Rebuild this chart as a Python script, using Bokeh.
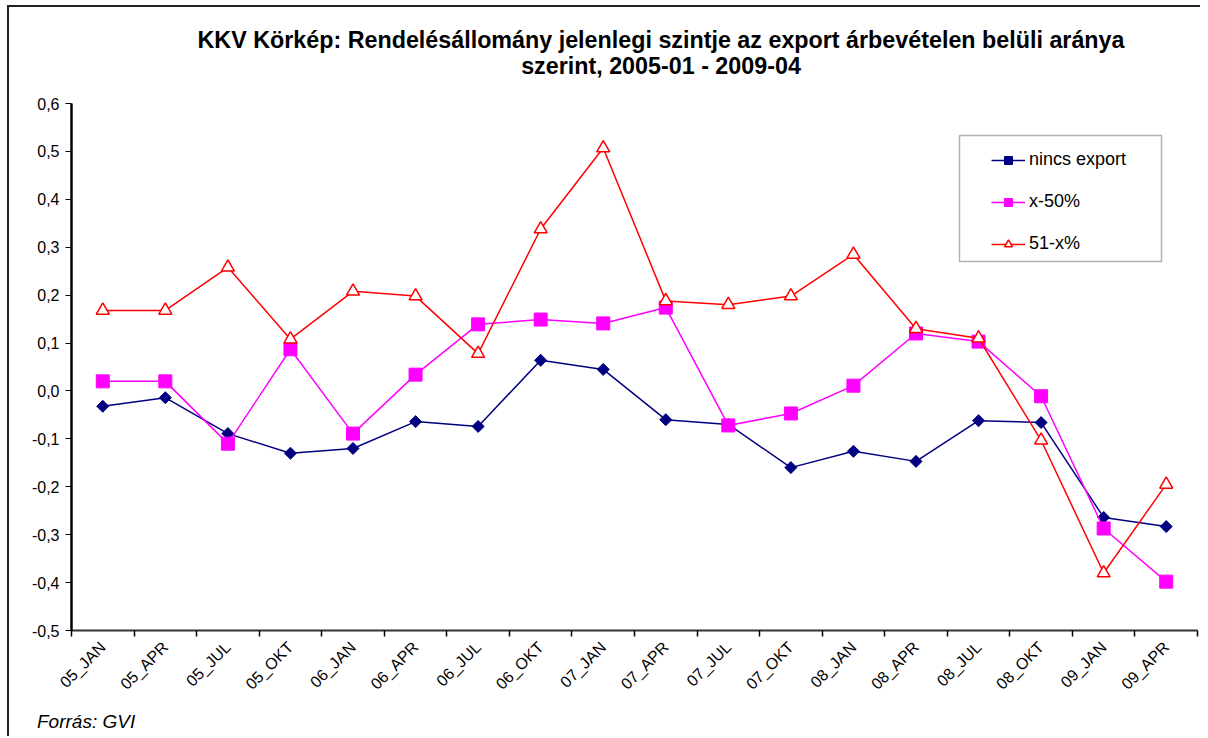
from bokeh.plotting import figure
from bokeh.models import (FixedTicker, Legend, LegendItem, Div, ColumnDataSource,
                          Range1d, BoxAnnotation)
from bokeh.layouts import column
from bokeh.embed import file_html
from bokeh.resources import INLINE
import math

categories = ["05_JAN", "05_APR", "05_JUL", "05_OKT", "06_JAN", "06_APR", "06_JUL", "06_OKT",
              "07_JAN", "07_APR", "07_JUL", "07_OKT", "08_JAN", "08_APR", "08_JUL", "08_OKT",
              "09_JAN", "09_APR"]
nincs_export = [-0.032, -0.014, -0.089, -0.130, -0.120, -0.064, -0.074, 0.064,
                0.045, -0.060, -0.070, -0.160, -0.126, -0.147, -0.062, -0.066,
                -0.264, -0.283]
x_50 = [0.020, 0.020, -0.110, 0.087, -0.089, 0.034, 0.139, 0.149,
        0.141, 0.174, -0.072, -0.047, 0.011, 0.120, 0.103, -0.011,
        -0.287, -0.398]
x_51 = [0.168, 0.168, 0.258, 0.108, 0.208, 0.198, 0.078, 0.338,
        0.507, 0.188, 0.180, 0.198, 0.285, 0.130, 0.110, -0.103,
        -0.380, -0.195]
y_ticks = [-0.5, -0.4, -0.3, -0.2, -0.1, 0.0, 0.1, 0.2, 0.3, 0.4, 0.5, 0.6]
y_labels = ["-0,5", "-0,4", "-0,3", "-0,2", "-0,1", "0,0", "0,1", "0,2", "0,3", "0,4", "0,5", "0,6"]
title_lines = ["KKV Körkép: Rendelésállomány jelenlegi szintje az export árbevételen belüli aránya",
               "szerint, 2005-01 - 2009-04"]
source_note = "Forrás: GVI"

FONT = "Liberation Sans"
n = len(categories)
xs = [i + 0.5 for i in range(n)]
src = ColumnDataSource(dict(x=xs, a=nincs_export, b=x_50, c=x_51))

W = 1191
title_div = Div(
    text=('<div style="width:1078px;margin-left:113px;padding-top:20px;text-align:center;'
          'font-weight:bold;font-size:23.3px;font-family:\'Liberation Sans\';line-height:26px;'
          'color:black;white-space:nowrap">' + title_lines[0] + '<br>' + title_lines[1] +
          '</div>'),
    width=W, height=80, margin=0, styles={"overflow": "hidden", "background": "white"})

p = figure(width=W, height=621, output_backend="svg", toolbar_location=None,
           x_range=Range1d(0, n), y_range=Range1d(-0.5, 0.6),
           min_border_left=62, min_border_right=3, min_border_top=16, min_border_bottom=78,
           title=None)
p.outline_line_color = None
p.xgrid.visible = False
p.ygrid.visible = False
p.background_fill_color = "white"
p.border_fill_color = "white"

src_div = Div(
    text=('<div style="margin-left:28px;padding-top:4px;font-style:italic;font-size:19px;'
          'font-family:\'Liberation Sans\';line-height:20px;color:black;white-space:nowrap">'
          + source_note + '</div>'),
    width=W, height=28, margin=0, styles={"overflow": "hidden", "background": "white"})

# y axis
p.yaxis.ticker = FixedTicker(ticks=y_ticks)
p.yaxis.major_label_overrides = {t: l for t, l in zip(y_ticks, y_labels)}
p.yaxis.axis_line_width = 2.5
p.yaxis.axis_line_color = "black"
p.yaxis.major_tick_in = 0
p.yaxis.major_tick_out = 6
p.yaxis.major_tick_line_width = 1
p.yaxis.minor_tick_line_color = None
p.yaxis.major_label_text_font = FONT
p.yaxis.major_label_text_font_size = "16px"
p.yaxis.major_label_text_color = "black"
p.yaxis.major_label_standoff = 6

# x axis
p.xaxis.ticker = FixedTicker(ticks=xs, minor_ticks=list(range(n + 1)))
p.xaxis.major_label_overrides = {x: c for x, c in zip(xs, categories)}
p.xaxis.major_tick_line_color = None
p.xaxis.minor_tick_in = 0
p.xaxis.minor_tick_out = 6
p.xaxis.minor_tick_line_color = "black"
p.xaxis.minor_tick_line_width = 1.5
p.xaxis.axis_line_width = 2
p.xaxis.axis_line_color = "#333"
p.xaxis.major_label_orientation = math.pi / 4
p.xaxis.major_label_text_font = FONT
p.xaxis.major_label_text_font_size = "16px"
p.xaxis.major_label_text_color = "black"
p.xaxis.major_label_standoff = 8

r1l = p.line("x", "a", source=src, line_color="#000080", line_width=1.5)
r1m = p.scatter("x", "a", source=src, marker="square", angle=math.pi / 4, size=8.5,
                fill_color="#000080", line_color="#000080")
r2l = p.line("x", "b", source=src, line_color="#FF00FF", line_width=1.5)
r2m = p.scatter("x", "b", source=src, marker="square", size=13, fill_color="#FF00FF",
                line_color="#FF00FF")
r3l = p.line("x", "c", source=src, line_color="#FF0000", line_width=1.5)
r3m = p.scatter("x", "c", source=src, marker="triangle", size=13, fill_color="white",
                line_color="#FF0000", line_width=1.5)

legend = Legend(items=[LegendItem(label="nincs export", renderers=[r1l, r1m]),
                       LegendItem(label="x-50%", renderers=[r2l, r2m]),
                       LegendItem(label="51-x%", renderers=[r3l, r3m])],
                location=(920, 376), margin=0, padding=10, spacing=21,
                glyph_width=34, glyph_height=20, label_height=20, label_standoff=4,
                label_text_font=FONT, label_text_font_size="18px", label_text_color="black",
                border_line_color=None, background_fill_alpha=0)
p.add_layout(legend)
box = BoxAnnotation(left=888, right=1090, top=495, bottom=369,
                    left_units="screen", right_units="screen",
                    top_units="screen", bottom_units="screen",
                    fill_color="white", fill_alpha=1, line_color="black", line_width=1.5,
                    level="underlay")
p.add_layout(box)

layout = column(title_div, p, src_div, spacing=0)
layout.margin = (5, 0, 0, 7)
layout.styles = {"border-top": "2px solid #222", "border-left": "2px solid #222",
                 "background": "white"}

open("out.html", "w").write(file_html(layout, INLINE))
